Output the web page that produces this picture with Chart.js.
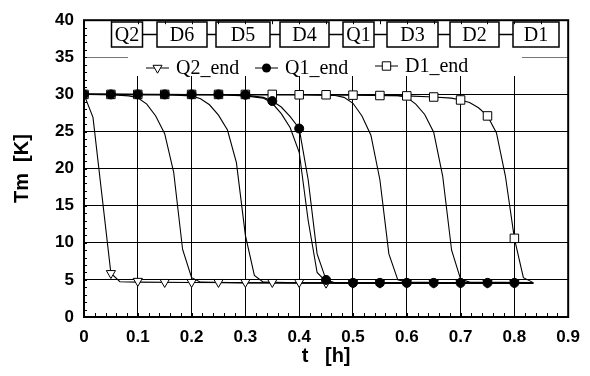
<!DOCTYPE html>
<html>
<head>
<meta charset="utf-8">
<script src="https://cdn.jsdelivr.net/npm/chart.js@4.4.1/dist/chart.umd.min.js"></script>
<style>
  html, body { margin: 0; padding: 0; background: #fff; }
  #wrap { width: 590px; height: 376px; }
</style>
</head>
<body>
<div id="wrap"><canvas id="chart" width="590" height="376"></canvas></div>
<script>
// magnet order shown in the top strip
const magnets = ['Q2', 'D6', 'D5', 'D4', 'Q1', 'D3', 'D2', 'D1'];

// axis ticks
const xTicks = [0, 0.1, 0.2, 0.3, 0.4, 0.5, 0.6, 0.7, 0.8, 0.9];
const yTicks = [0, 5, 10, 15, 20, 25, 30, 35, 40];

// marker times (every 3 min)
const markTimes = [0, 0.05, 0.1, 0.15, 0.2, 0.25, 0.3, 0.35, 0.4, 0.45, 0.5, 0.55, 0.6, 0.65, 0.7, 0.75, 0.8];
const q2EndMarks = [30, 5.9, 4.85, 4.7, 4.7, 4.7, 4.7, 4.7, 4.7, 4.6, 4.6, 4.6, 4.6, 4.6, 4.6, 4.6, 4.6];
const q1EndMarks = [30, 30, 30, 30, 30, 30, 29.95, 29.1, 25.4, 5.0, 4.6, 4.6, 4.6, 4.6, 4.6, 4.6, 4.6];
const d1EndMarks = [30, 30, 30, 30, 30, 30, 30, 30, 29.95, 29.95, 29.9, 29.85, 29.8, 29.65, 29.25, 27.1, 10.6];

// magnet temperature curves [t, Tm]
const q2Curve = [[0,30],[0.0167,26.9],[0.05,5.9],[0.0667,4.75],[0.1,4.7],[0.2,4.65],[0.4,4.6],[0.6,4.6],[0.835,4.6]];
const d6Curve = [[0,30],[0.05,29.95],[0.0833,29.8],[0.1,29.55],[0.1167,28.7],[0.1333,27.1],[0.15,24.7],[0.1667,19.5],[0.1833,9.1],[0.2,5.3],[0.2167,4.7],[0.3,4.6],[0.835,4.55]];
const d5Curve = [[0,30],[0.15,29.95],[0.2,29.8],[0.2167,29.4],[0.2333,28.6],[0.25,27.2],[0.2667,25.2],[0.2833,20.8],[0.3,11],[0.3167,5.6],[0.3333,4.7],[0.4,4.6],[0.835,4.55]];
const d4Curve = [[0,30],[0.25,29.95],[0.3,29.8],[0.3333,29.5],[0.35,28.8],[0.3667,27.4],[0.3833,25.5],[0.4,22.2],[0.4167,13],[0.4333,6],[0.45,4.75],[0.4667,4.6],[0.835,4.55]];
const q1Curve = [[0,30],[0.25,29.95],[0.3,29.9],[0.3333,29.6],[0.35,29.1],[0.3667,28.3],[0.3833,27],[0.4,25.4],[0.4167,18.5],[0.4333,8.5],[0.45,5.0],[0.4667,4.6],[0.835,4.6]];
const d3Curve = [[0,30],[0.4,29.95],[0.4667,29.85],[0.4833,29.6],[0.5,28.8],[0.5167,27.1],[0.5333,24.5],[0.55,18.5],[0.5667,8.5],[0.5833,5.0],[0.6,4.7],[0.7,4.6],[0.835,4.6]];
const d2Curve = [[0,30],[0.5,29.95],[0.5833,29.85],[0.6,29.6],[0.6167,28.7],[0.6333,27.3],[0.65,24.9],[0.6667,19],[0.6833,9],[0.7,5.1],[0.7167,4.7],[0.835,4.65]];
const d1Curve = [[0,30],[0.4,29.95],[0.5,29.9],[0.6,29.8],[0.65,29.65],[0.6833,29.5],[0.7,29.25],[0.7167,28.9],[0.7333,28.2],[0.75,27.1],[0.7667,24.8],[0.7833,19],[0.8,10.6],[0.8167,5.3],[0.8333,4.7]];

const pairs = arr => arr.map(p => ({ x: p[0], y: p[1] }));
const marks = vals => vals.map((v, i) => ({ x: markTimes[i], y: v }));

function curve(arr) {
    return { data: pairs(arr), borderColor: '#000', borderWidth: 1.1, pointRadius: 0, fill: false, tension: 0 };
}

// white box with magnet chain + legend, drawn over the grid
const stripPlugin = {
    id: 'strip',
    beforeDatasetsDraw(chart) {
        const ctx = chart.ctx;
        ctx.save();
        ctx.fillStyle = '#fff';
        ctx.fillRect(128, 15, 396, 38);
        ctx.fillRect(128, 52, 394, 24);

        // magnet chain
        const boxes = [[111.5, 142.5], [157, 207], [216, 270], [280, 329], [343, 374], [387, 438], [450, 499], [513, 559]];
        const top = 22, h = 25, mid = top + h / 2;
        ctx.strokeStyle = '#000';
        ctx.lineWidth = 1.5;
        ctx.font = '20px "Liberation Serif", "Times New Roman", serif';
        ctx.fillStyle = '#000';
        ctx.textAlign = 'center';
        ctx.textBaseline = 'middle';
        boxes.forEach((b, i) => {
            ctx.strokeRect(b[0], top, b[1] - b[0], h);
            ctx.fillText(magnets[i], (b[0] + b[1]) / 2, mid + 1);
            if (i < boxes.length - 1) {
                ctx.beginPath();
                ctx.moveTo(b[1], mid);
                ctx.lineTo(boxes[i + 1][0], mid);
                ctx.stroke();
            }
        });

        // legend
        const items = [
            { label: 'Q2_end', x: 146, y: 68, style: 'triangle' },
            { label: 'Q1_end', x: 255, y: 68, style: 'circle' },
            { label: 'D1_end', x: 375, y: 66, style: 'rect' }
        ];
        ctx.lineWidth = 1;
        ctx.textAlign = 'left';
        items.forEach(it => {
            ctx.beginPath();
            ctx.moveTo(it.x, it.y);
            ctx.lineTo(it.x + 23, it.y);
            ctx.stroke();
            const cx = it.x + 11.5;
            ctx.beginPath();
            if (it.style === 'triangle') {
                ctx.moveTo(cx - 4.5, it.y - 2.7);
                ctx.lineTo(cx + 4.5, it.y - 2.7);
                ctx.lineTo(cx, it.y + 5.2);
                ctx.closePath();
                ctx.fillStyle = '#fff';
                ctx.fill();
                ctx.stroke();
            } else if (it.style === 'circle') {
                ctx.arc(cx, it.y, 4.5, 0, Math.PI * 2);
                ctx.fillStyle = '#000';
                ctx.fill();
            } else {
                ctx.rect(cx - 4.2, it.y - 4.2, 8.4, 8.4);
                ctx.fillStyle = '#fff';
                ctx.fill();
                ctx.stroke();
            }
            ctx.fillStyle = '#000';
            ctx.fillText(it.label, it.x + 30, it.y + 1);
        });
        ctx.restore();
    },
    afterDraw(chart) {
        const { ctx, chartArea: a, scales } = chart;
        ctx.save();
        ctx.strokeStyle = '#000';
        ctx.lineWidth = 1;
        ctx.beginPath();
        // minor ticks bottom (0.02) and top (0.05)
        for (let i = 0; i <= 45; i++) {
            const px = Math.round(scales.x.getPixelForValue(i * 0.02)) + 0.5;
            ctx.moveTo(px, a.bottom);
            ctx.lineTo(px, a.bottom - 4);
        }
        for (let i = 0; i <= 18; i++) {
            const px = Math.round(scales.x.getPixelForValue(i * 0.05)) + 0.5;
            ctx.moveTo(px, a.top);
            ctx.lineTo(px, a.top + 4);
        }
        // minor ticks left (1 K)
        for (let i = 0; i <= 40; i++) {
            const py = Math.round(scales.y.getPixelForValue(i)) + 0.5;
            ctx.moveTo(a.left, py);
            ctx.lineTo(a.left + 3, py);
        }
        ctx.stroke();
        ctx.lineWidth = 2;
        ctx.strokeRect(a.left, a.top, a.right - a.left, a.bottom - a.top);
        ctx.restore();
    }
};

const tickFont = { family: '"Liberation Sans", Arial, sans-serif', size: 17, weight: 'bold' };
const titleFont = { family: '"Liberation Sans", Arial, sans-serif', size: 20, weight: 'bold' };

new Chart(document.getElementById('chart'), {
    type: 'line',
    data: {
        datasets: [
            { data: marks(q1EndMarks), showLine: false, pointStyle: 'circle', pointRadius: 4.5, pointBackgroundColor: '#000', pointBorderColor: '#000', pointBorderWidth: 1 },
            { data: marks(d1EndMarks), showLine: false, pointStyle: 'rect', pointRadius: 6, pointBackgroundColor: '#fff', pointBorderColor: '#000', pointBorderWidth: 1 },
            { data: marks(q2EndMarks), showLine: false, pointStyle: 'triangle', pointRotation: 180, pointRadius: 5.3, pointBackgroundColor: '#fff', pointBorderColor: '#000', pointBorderWidth: 1 },
            curve(q2Curve), curve(d6Curve), curve(d5Curve), curve(d4Curve),
            curve(q1Curve), curve(d3Curve), curve(d2Curve), curve(d1Curve)
        ]
    },
    options: {
        responsive: false,
        animation: false,
        events: [],
        layout: { padding: { top: 14, right: 13, left: 0, bottom: 0 } },
        plugins: { legend: { display: false }, tooltip: { enabled: false } },
        scales: {
            x: {
                type: 'linear', min: 0, max: 0.9,
                afterFit: s => { s.height = 59; },
                afterBuildTicks: s => { s.ticks = xTicks.map(v => ({ value: v })); },
                ticks: { font: tickFont, color: '#000', padding: 10, maxRotation: 0,
                    callback: v => v === 0 ? '0' : v.toFixed(1) },
                grid: { color: '#000', lineWidth: 1, drawTicks: false },
                border: { display: false },
                title: { display: true, text: 't   [h]', font: titleFont, color: '#000', padding: { top: 0, bottom: 8 } }
            },
            y: {
                min: 0, max: 40,
                afterFit: s => { s.width = 84; },
                afterBuildTicks: s => { s.ticks = yTicks.map(v => ({ value: v })); },
                ticks: { font: tickFont, color: '#000', padding: 10 },
                grid: { color: ctx => ctx.tick && ctx.tick.value === 35 ? '#777' : '#000', lineWidth: 1, drawTicks: false },
                border: { display: false },
                title: { display: true, text: 'Tm  [K]', font: titleFont, color: '#000', padding: { top: 10, bottom: 0 } }
            }
        }
    },
    plugins: [stripPlugin]
});
</script>
</body>
</html>
